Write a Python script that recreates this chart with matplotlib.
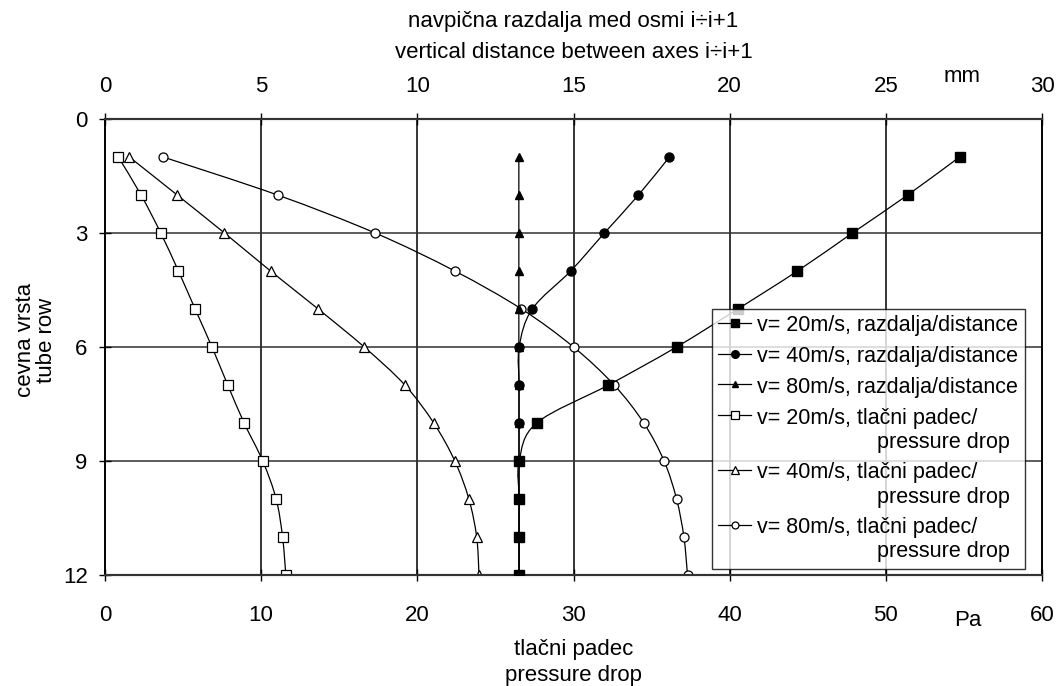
import numpy as np
import matplotlib
matplotlib.use("Agg")
import matplotlib.pyplot as plt
from matplotlib.path import Path
from matplotlib.patches import PathPatch
from matplotlib.lines import Line2D

plt.rcParams['font.family'] = ['Liberation Sans', 'DejaVu Sans']

# ---- data ----
rows = [1, 2, 3, 4, 5, 6, 7, 8, 9, 10, 11, 12]
# vertical distance between axes [mm] (top axis)
dist_20 = [27.36, 25.70, 23.93, 22.17, 20.26, 18.30, 16.12, 13.82, 13.26, 13.26, 13.26, 13.26]
dist_40 = [18.07, 17.08, 15.99, 14.91, 13.68, 13.26, 13.26, 13.26, 13.26, 13.26, 13.26, 13.26]
dist_80 = [13.25, 13.25, 13.25, 13.25, 13.25, 13.25, 13.25, 13.25, 13.25, 13.25, 13.25, 13.25]
# pressure drop [Pa] (bottom axis)
dp_20 = [0.85, 2.31, 3.57, 4.70, 5.77, 6.85, 7.86, 8.91, 10.10, 10.96, 11.37, 11.58]
dp_40 = [1.56, 4.62, 7.65, 10.60, 13.65, 16.60, 19.20, 21.05, 22.40, 23.30, 23.80, 23.95]
dp_80 = [3.72, 11.05, 17.30, 22.40, 26.67, 30.00, 32.60, 34.50, 35.80, 36.60, 37.07, 37.30]

labels = ["v= 20m/s, razdalja/distance",
          "v= 40m/s, razdalja/distance",
          "v= 80m/s, razdalja/distance",
          "v= 20m/s, tlačni padec/\n                    pressure drop",
          "v= 40m/s, tlačni padec/\n                    pressure drop",
          "v= 80m/s, tlačni padec/\n                    pressure drop"]

pa_ticks = [0, 10, 20, 30, 40, 50, 60]
mm_ticks = [0, 5, 10, 15, 20, 25, 30]
row_ticks = [0, 3, 6, 9, 12]

W, H = 1056, 686
fig = plt.figure(figsize=(W / 100, H / 100), dpi=100)
L, R, T, B = 105, 1042, 119, 575
ax = fig.add_axes([L / W, 1 - B / H, (R - L) / W, (B - T) / H])
ax2 = ax.twiny()

FS = 16
LFS = 15.5

def smooth(axis, xs, ys, z):
    pts = np.column_stack([xs, ys]).astype(float)
    verts = [pts[0]]
    codes = [Path.MOVETO]
    n = len(pts)
    for i in range(n - 1):
        p0 = pts[i - 1] if i > 0 else pts[i]
        p1 = pts[i]
        p2 = pts[i + 1]
        p3 = pts[i + 2] if i + 2 < n else pts[i + 1]
        c1 = p1 + (p2 - p0) / 6.0
        c2 = p2 - (p3 - p1) / 6.0
        verts += [c1, c2, p2]
        codes += [Path.CURVE4] * 3
    patch = PathPatch(Path(verts, codes), facecolor='none', edgecolor='black',
                      lw=0.9, zorder=z)
    axis.add_patch(patch)

# pressure drop series on bottom axis
specs_p = [(dp_20, 's', 7.0), (dp_40, '^', 7.5), (dp_80, 'o', 6.5)]
for i, (vals, m, ms) in enumerate(specs_p):
    smooth(ax, vals, rows, 3)
    ax.plot(vals, rows, ls='none', marker=m, ms=ms, mfc='white', mec='black',
            mew=0.9, zorder=4)

# distance series on top axis (draw order: 80, 40, 20 on top)
specs_d = [(dist_80, '^', 5.5, 5), (dist_40, 'o', 6.5, 6), (dist_20, 's', 6.5, 7)]
for vals, m, ms, z in specs_d:
    smooth(ax2, vals, rows, z)
    ax2.plot(vals, rows, ls='none', marker=m, ms=ms, mfc='black', mec='black',
             zorder=z + 0.5)

ax.set_xlim(0, 60)
ax2.set_xlim(0, 30)
ax.set_ylim(12, 0)

ax.set_xticks(pa_ticks)
ax.set_yticks(row_ticks)
ax2.set_xticks(mm_ticks)

for a in (ax, ax2):
    a.set_facecolor('none')
ax.set_zorder(1)
ax2.set_zorder(2)

# grid
for x in pa_ticks[1:-1]:
    ax.axvline(x, color='black', lw=1.1, zorder=1)
for y in row_ticks[1:-1]:
    ax.axhline(y, color='#303030', lw=1.1, zorder=1)

ax.tick_params(axis='x', direction='inout', length=9, width=1.0, pad=17,
               labelsize=FS, colors='black')
ax.tick_params(axis='y', direction='inout', length=9, width=1.0, pad=8,
               labelsize=FS)
ax2.tick_params(axis='x', direction='inout', length=9, width=1.0, pad=11,
                labelsize=FS)

for a in (ax, ax2):
    for s in ('left', 'right'):
        a.spines[s].set_linewidth(1.2)
        a.spines[s].set_color('black')
    for s in ('top', 'bottom'):
        a.spines[s].set_linewidth(1.5)
        a.spines[s].set_color('#333333')

# texts
def ftext(x, y, s, **kw):
    fig.text(x / W, 1 - y / H, s, ha='center', va='center', fontsize=FS, **kw)

cx = (L + R) / 2
ftext(cx, 21, "navpična razdalja med osmi i÷i+1")
ftext(cx, 53, "vertical distance between axes i÷i+1")
ftext(962, 76, "mm")
ftext(968, 620, "Pa")
ftext(cx, 650, "tlačni padec")
ftext(cx, 675, "pressure drop")
ftext(36, 340, "cevna vrsta\ntube row", rotation=90, linespacing=1.05)

# legend
handles = [
    Line2D([], [], color='black', lw=0.9, marker='s', ms=5.5, mfc='black', mec='black'),
    Line2D([], [], color='black', lw=0.9, marker='o', ms=5.5, mfc='black', mec='black'),
    Line2D([], [], color='black', lw=0.9, marker='^', ms=5, mfc='black', mec='black'),
    Line2D([], [], color='black', lw=0.9, marker='s', ms=6, mfc='white', mec='black', mew=0.9),
    Line2D([], [], color='black', lw=0.9, marker='^', ms=5.5, mfc='white', mec='black', mew=0.9),
    Line2D([], [], color='black', lw=0.9, marker='o', ms=5, mfc='white', mec='black', mew=0.9),
]
leg = ax2.legend(handles, labels, loc='upper left',
                 bbox_to_anchor=(712 / W, 1 - 309 / H), bbox_transform=fig.transFigure,
                 fontsize=LFS, frameon=True, fancybox=False, shadow=False,
                 handlelength=1.5, handletextpad=0.3, borderpad=0.3,
                 labelspacing=0.45, borderaxespad=0)
leg.get_frame().set_edgecolor('black')
leg.get_frame().set_linewidth(1.0)
leg.set_zorder(20)
# align handles with the first text line of each entry
try:
    for col in leg._legend_handle_box.get_children():
        for item in col.get_children():
            item.align = "top"
except Exception:
    pass

fig.savefig("out.png", dpi=100)
